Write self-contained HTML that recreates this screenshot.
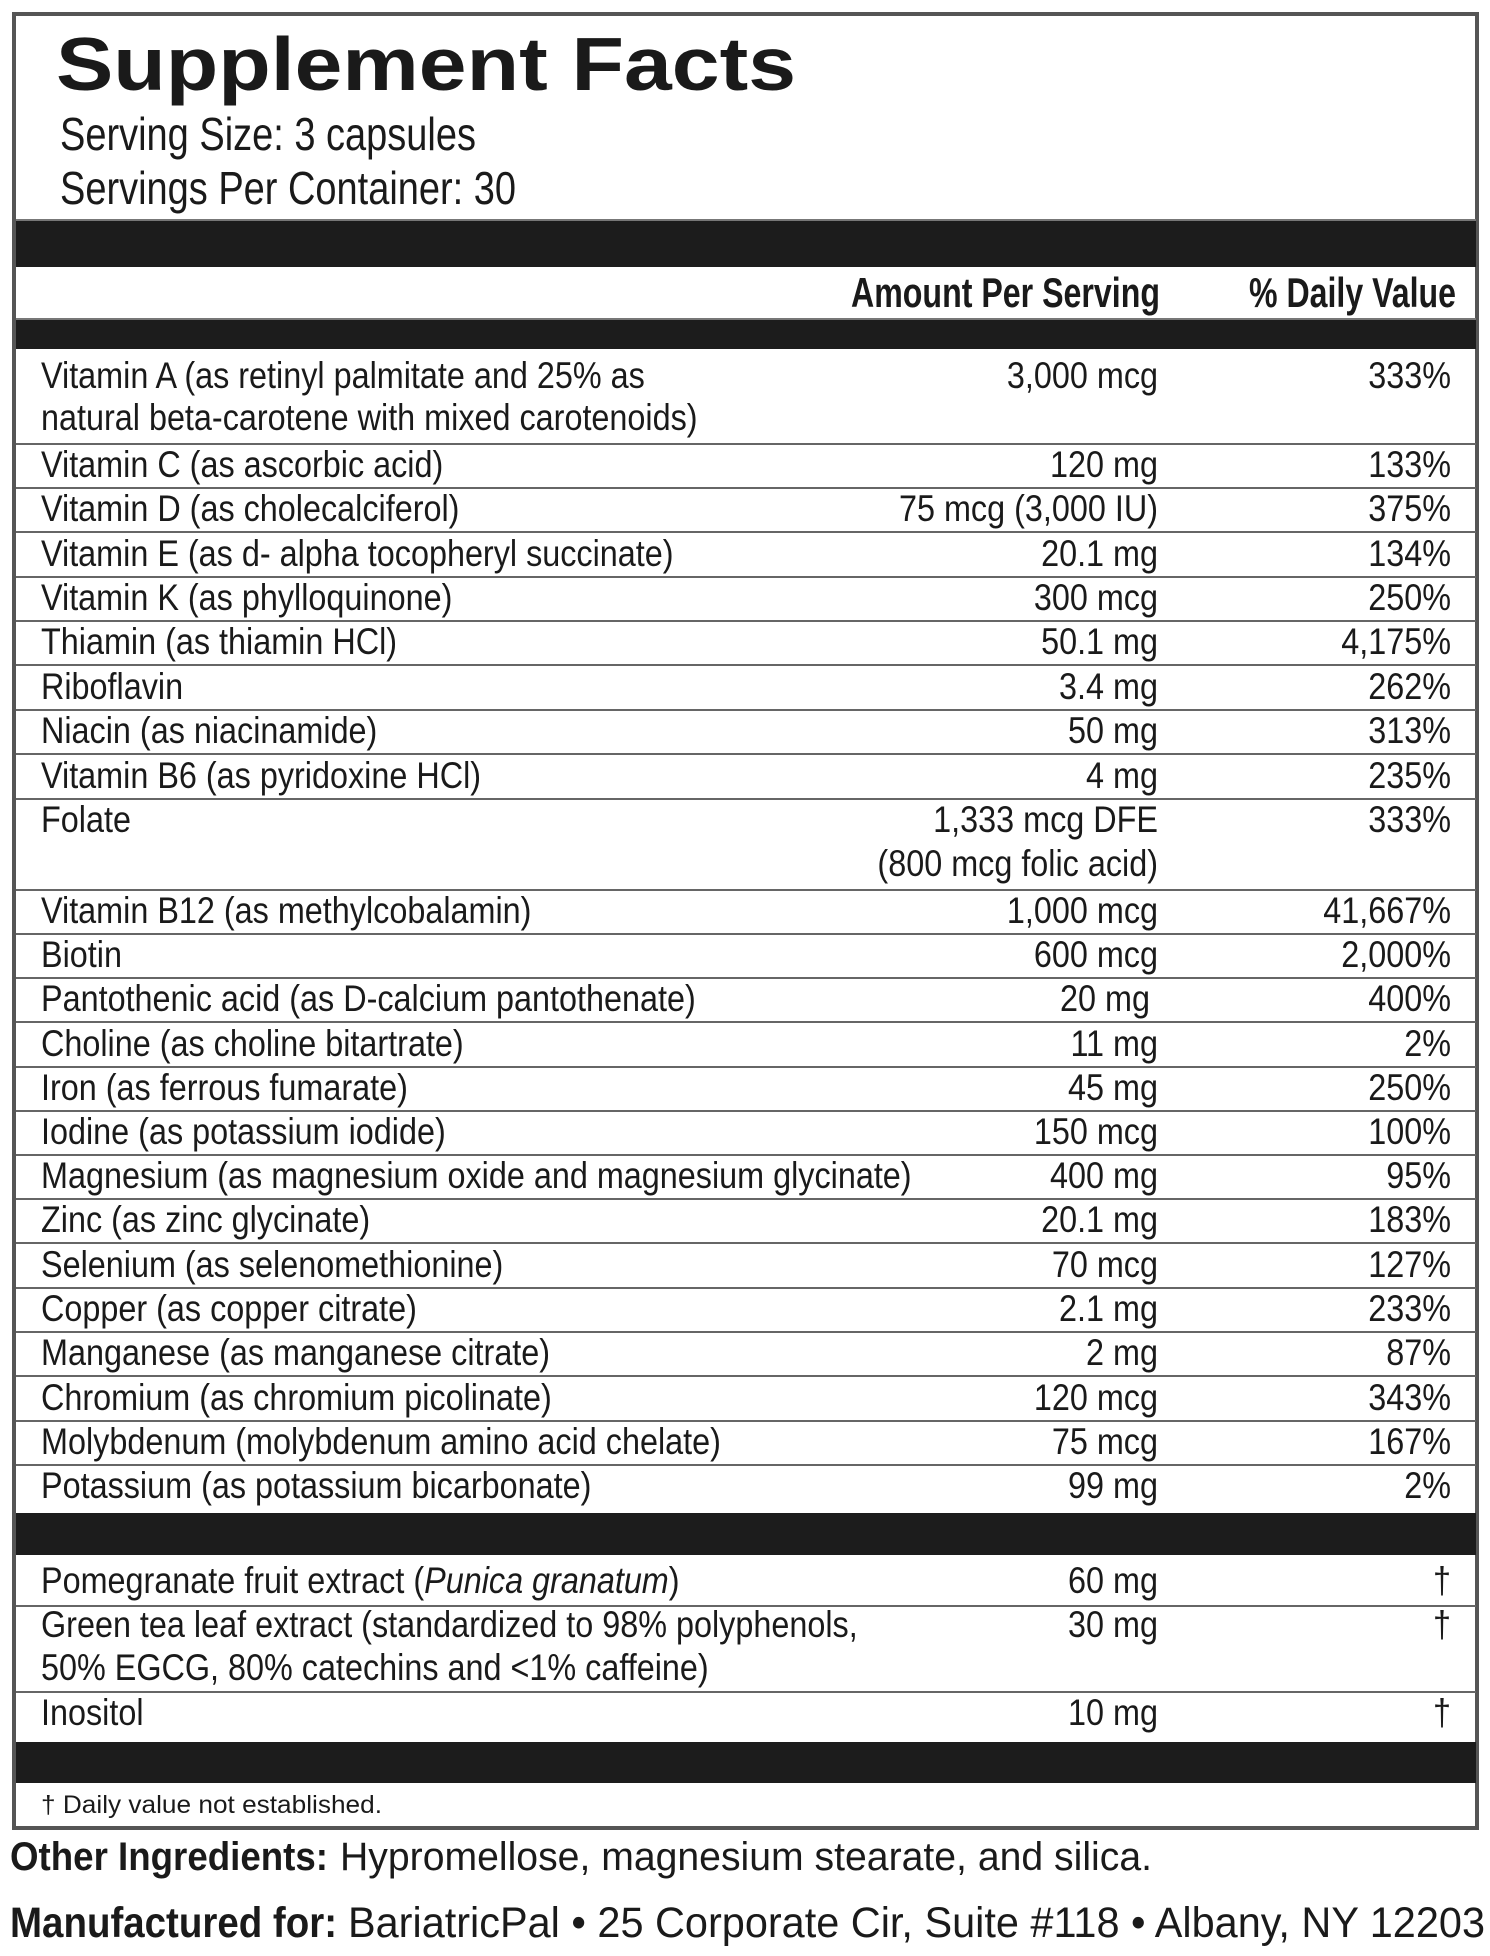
<!DOCTYPE html>
<html><head><meta charset="utf-8"><style>
html,body{margin:0;padding:0;background:#fff;}
svg{display:block;}
text{font-family:"Liberation Sans",Arial,sans-serif;fill:#1a1a1a;}
.r{font-size:37px;}
.b{font-weight:bold;}
</style></head><body>
<svg width="1490" height="1956" viewBox="0 0 1490 1956" xmlns="http://www.w3.org/2000/svg">
<rect x="0" y="0" width="1490" height="1956" fill="#fff"/>
<rect x="14" y="14" width="1463" height="1814" fill="none" stroke="#555" stroke-width="4"/>
<rect x="16" y="220" width="1460" height="47" fill="#1c1c1c"/>
<rect x="16" y="319" width="1460" height="30" fill="#1c1c1c"/>
<rect x="16" y="1513" width="1460" height="42" fill="#1c1c1c"/>
<rect x="16" y="1742" width="1460" height="41" fill="#1c1c1c"/>
<line x1="16" y1="220" x2="1476" y2="220" stroke="#777" stroke-width="2"/>
<line x1="16" y1="319" x2="1476" y2="319" stroke="#777" stroke-width="2"/>
<text x="56" y="90" class="b" font-size="75" textLength="740" lengthAdjust="spacingAndGlyphs">Supplement Facts</text>
<text x="60" y="150" font-size="46" textLength="416" lengthAdjust="spacingAndGlyphs">Serving Size: 3 capsules</text>
<text x="60" y="204" font-size="46" textLength="456" lengthAdjust="spacingAndGlyphs">Servings Per Container: 30</text>
<text x="851" y="307" class="b" font-size="42" textLength="309" lengthAdjust="spacingAndGlyphs">Amount Per Serving</text>
<text x="1249" y="307" class="b" font-size="42" textLength="207" lengthAdjust="spacingAndGlyphs">% Daily Value</text>
<g stroke="#666" stroke-width="2">
<line x1="16" y1="444" x2="1476" y2="444"/>
<line x1="16" y1="488" x2="1476" y2="488"/>
<line x1="16" y1="532" x2="1476" y2="532"/>
<line x1="16" y1="577" x2="1476" y2="577"/>
<line x1="16" y1="621" x2="1476" y2="621"/>
<line x1="16" y1="665" x2="1476" y2="665"/>
<line x1="16" y1="710" x2="1476" y2="710"/>
<line x1="16" y1="754" x2="1476" y2="754"/>
<line x1="16" y1="799" x2="1476" y2="799"/>
<line x1="16" y1="890" x2="1476" y2="890"/>
<line x1="16" y1="934" x2="1476" y2="934"/>
<line x1="16" y1="978" x2="1476" y2="978"/>
<line x1="16" y1="1022" x2="1476" y2="1022"/>
<line x1="16" y1="1067" x2="1476" y2="1067"/>
<line x1="16" y1="1111" x2="1476" y2="1111"/>
<line x1="16" y1="1155" x2="1476" y2="1155"/>
<line x1="16" y1="1199" x2="1476" y2="1199"/>
<line x1="16" y1="1243" x2="1476" y2="1243"/>
<line x1="16" y1="1288" x2="1476" y2="1288"/>
<line x1="16" y1="1332" x2="1476" y2="1332"/>
<line x1="16" y1="1376" x2="1476" y2="1376"/>
<line x1="16" y1="1421" x2="1476" y2="1421"/>
<line x1="16" y1="1465" x2="1476" y2="1465"/>
<line x1="16" y1="1606" x2="1476" y2="1606"/>
<line x1="16" y1="1692" x2="1476" y2="1692"/>
</g>
<g>
<g text-anchor="start">
<text class="r" transform="translate(41,388) scale(.875,1)">Vitamin A (as retinyl palmitate and 25% as</text>
<text class="r" transform="translate(41,430) scale(.875,1)">natural beta-carotene with mixed carotenoids)</text>
<text class="r" transform="translate(41,477) scale(.875,1)">Vitamin C (as ascorbic acid)</text>
<text class="r" transform="translate(41,521) scale(.875,1)">Vitamin D (as cholecalciferol)</text>
<text class="r" transform="translate(41,566) scale(.875,1)">Vitamin E (as d- alpha tocopheryl succinate)</text>
<text class="r" transform="translate(41,610) scale(.875,1)">Vitamin K (as phylloquinone)</text>
<text class="r" transform="translate(41,654) scale(.875,1)">Thiamin (as thiamin HCl)</text>
<text class="r" transform="translate(41,699) scale(.875,1)">Riboflavin</text>
<text class="r" transform="translate(41,743) scale(.875,1)">Niacin (as niacinamide)</text>
<text class="r" transform="translate(41,788) scale(.875,1)">Vitamin B6 (as pyridoxine HCl)</text>
<text class="r" transform="translate(41,832) scale(.875,1)">Folate</text>
<text class="r" transform="translate(41,923) scale(.875,1)">Vitamin B12 (as methylcobalamin)</text>
<text class="r" transform="translate(41,967) scale(.875,1)">Biotin</text>
<text class="r" transform="translate(41,1011) scale(.875,1)">Pantothenic acid (as D-calcium pantothenate)</text>
<text class="r" transform="translate(41,1056) scale(.875,1)">Choline (as choline bitartrate)</text>
<text class="r" transform="translate(41,1100) scale(.875,1)">Iron (as ferrous fumarate)</text>
<text class="r" transform="translate(41,1144) scale(.875,1)">Iodine (as potassium iodide)</text>
<text class="r" transform="translate(41,1188) scale(.875,1)">Magnesium (as magnesium oxide and magnesium glycinate)</text>
<text class="r" transform="translate(41,1232) scale(.875,1)">Zinc (as zinc glycinate)</text>
<text class="r" transform="translate(41,1277) scale(.875,1)">Selenium (as selenomethionine)</text>
<text class="r" transform="translate(41,1321) scale(.875,1)">Copper (as copper citrate)</text>
<text class="r" transform="translate(41,1365) scale(.875,1)">Manganese (as manganese citrate)</text>
<text class="r" transform="translate(41,1410) scale(.875,1)">Chromium (as chromium picolinate)</text>
<text class="r" transform="translate(41,1454) scale(.875,1)">Molybdenum (molybdenum amino acid chelate)</text>
<text class="r" transform="translate(41,1498) scale(.875,1)">Potassium (as potassium bicarbonate)</text>
<text class="r" transform="translate(41,1593) scale(.875,1)">Pomegranate fruit extract (<tspan font-style="italic">Punica granatum</tspan>)</text>
<text class="r" transform="translate(41,1637) scale(.875,1)">Green tea leaf extract (standardized to 98% polyphenols,</text>
<text class="r" transform="translate(41,1680) scale(.875,1)">50% EGCG, 80% catechins and &lt;1% caffeine)</text>
<text class="r" transform="translate(41,1725) scale(.875,1)">Inositol</text>
</g>
<g text-anchor="end">
<text class="r" transform="translate(1158,388) scale(.875,1)">3,000 mcg</text>
<text class="r" transform="translate(1158,477) scale(.875,1)">120 mg</text>
<text class="r" transform="translate(1158,521) scale(.875,1)">75 mcg (3,000 IU)</text>
<text class="r" transform="translate(1158,566) scale(.875,1)">20.1 mg</text>
<text class="r" transform="translate(1158,610) scale(.875,1)">300 mcg</text>
<text class="r" transform="translate(1158,654) scale(.875,1)">50.1 mg</text>
<text class="r" transform="translate(1158,699) scale(.875,1)">3.4 mg</text>
<text class="r" transform="translate(1158,743) scale(.875,1)">50 mg</text>
<text class="r" transform="translate(1158,788) scale(.875,1)">4 mg</text>
<text class="r" transform="translate(1158,832) scale(.875,1)">1,333 mcg DFE</text>
<text class="r" transform="translate(1158,876) scale(.875,1)">(800 mcg folic acid)</text>
<text class="r" transform="translate(1158,923) scale(.875,1)">1,000 mcg</text>
<text class="r" transform="translate(1158,967) scale(.875,1)">600 mcg</text>
<text class="r" transform="translate(1150,1011) scale(.875,1)">20 mg</text>
<text class="r" transform="translate(1158,1056) scale(.875,1)">11 mg</text>
<text class="r" transform="translate(1158,1100) scale(.875,1)">45 mg</text>
<text class="r" transform="translate(1158,1144) scale(.875,1)">150 mcg</text>
<text class="r" transform="translate(1158,1188) scale(.875,1)">400 mg</text>
<text class="r" transform="translate(1158,1232) scale(.875,1)">20.1 mg</text>
<text class="r" transform="translate(1158,1277) scale(.875,1)">70 mcg</text>
<text class="r" transform="translate(1158,1321) scale(.875,1)">2.1 mg</text>
<text class="r" transform="translate(1158,1365) scale(.875,1)">2 mg</text>
<text class="r" transform="translate(1158,1410) scale(.875,1)">120 mcg</text>
<text class="r" transform="translate(1158,1454) scale(.875,1)">75 mcg</text>
<text class="r" transform="translate(1158,1498) scale(.875,1)">99 mg</text>
<text class="r" transform="translate(1158,1593) scale(.875,1)">60 mg</text>
<text class="r" transform="translate(1158,1637) scale(.875,1)">30 mg</text>
<text class="r" transform="translate(1158,1725) scale(.875,1)">10 mg</text>
</g>
<g text-anchor="end">
<text class="r" transform="translate(1451,388) scale(.875,1)">333%</text>
<text class="r" transform="translate(1451,477) scale(.875,1)">133%</text>
<text class="r" transform="translate(1451,521) scale(.875,1)">375%</text>
<text class="r" transform="translate(1451,566) scale(.875,1)">134%</text>
<text class="r" transform="translate(1451,610) scale(.875,1)">250%</text>
<text class="r" transform="translate(1451,654) scale(.875,1)">4,175%</text>
<text class="r" transform="translate(1451,699) scale(.875,1)">262%</text>
<text class="r" transform="translate(1451,743) scale(.875,1)">313%</text>
<text class="r" transform="translate(1451,788) scale(.875,1)">235%</text>
<text class="r" transform="translate(1451,832) scale(.875,1)">333%</text>
<text class="r" transform="translate(1451,923) scale(.875,1)">41,667%</text>
<text class="r" transform="translate(1451,967) scale(.875,1)">2,000%</text>
<text class="r" transform="translate(1451,1011) scale(.875,1)">400%</text>
<text class="r" transform="translate(1451,1056) scale(.875,1)">2%</text>
<text class="r" transform="translate(1451,1100) scale(.875,1)">250%</text>
<text class="r" transform="translate(1451,1144) scale(.875,1)">100%</text>
<text class="r" transform="translate(1451,1188) scale(.875,1)">95%</text>
<text class="r" transform="translate(1451,1232) scale(.875,1)">183%</text>
<text class="r" transform="translate(1451,1277) scale(.875,1)">127%</text>
<text class="r" transform="translate(1451,1321) scale(.875,1)">233%</text>
<text class="r" transform="translate(1451,1365) scale(.875,1)">87%</text>
<text class="r" transform="translate(1451,1410) scale(.875,1)">343%</text>
<text class="r" transform="translate(1451,1454) scale(.875,1)">167%</text>
<text class="r" transform="translate(1451,1498) scale(.875,1)">2%</text>
<text class="r" transform="translate(1451,1593) scale(.875,1)">†</text>
<text class="r" transform="translate(1451,1637) scale(.875,1)">†</text>
<text class="r" transform="translate(1451,1725) scale(.875,1)">†</text>
</g>
</g>
<text x="41" y="1813" font-size="25" textLength="341" lengthAdjust="spacingAndGlyphs">† Daily value not established.</text>
<text x="10" y="1870" class="b" font-size="40" textLength="318" lengthAdjust="spacingAndGlyphs">Other Ingredients:</text>
<text x="340" y="1870" font-size="40" textLength="812" lengthAdjust="spacingAndGlyphs">Hypromellose, magnesium stearate, and silica.</text>
<text x="10" y="1937" class="b" font-size="43" textLength="327" lengthAdjust="spacingAndGlyphs">Manufactured for:</text>
<text x="348" y="1937" font-size="43" textLength="1137" lengthAdjust="spacingAndGlyphs">BariatricPal • 25 Corporate Cir, Suite #118 • Albany, NY 12203</text>
</svg>
</body></html>
